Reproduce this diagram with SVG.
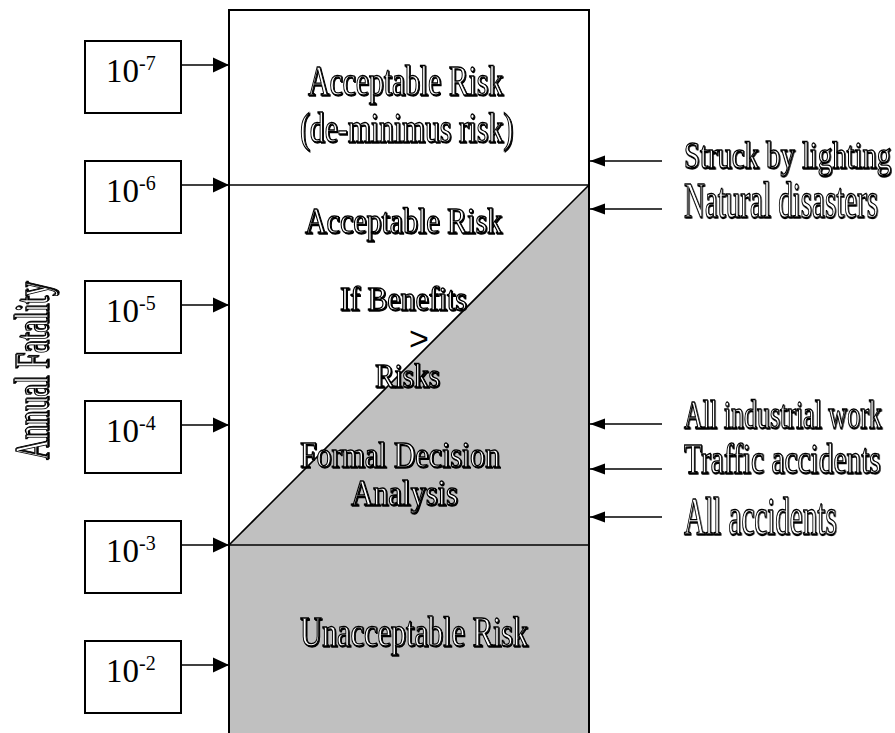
<svg xmlns="http://www.w3.org/2000/svg" width="895" height="733" viewBox="0 0 895 733">
<style>
.bx{fill:#fff;stroke:#000;stroke-width:2}
.ln{stroke:#000;stroke-width:1.6;fill:none}
.num{font-family:"Liberation Serif","Times New Roman",serif;font-size:33px;fill:#000}
.sup{font-size:20px}
.o{font-family:"Liberation Serif","Times New Roman",serif;fill:#fff;stroke:#000;stroke-width:1.3;filter:url(#sh)}
</style>
<defs>
<filter id="sh" x="-5%" y="-20%" width="110%" height="140%"><feDropShadow dx="1" dy="1" stdDeviation="0" flood-color="#000"/></filter>
<marker id="al" markerUnits="userSpaceOnUse" markerWidth="16" markerHeight="16" refX="16" refY="8" orient="auto"><path d="M0,0.5 L16,8 L0,15.5 Z" fill="#000"/></marker>
<marker id="ar" markerUnits="userSpaceOnUse" markerWidth="16" markerHeight="12" refX="15" refY="6" orient="auto"><path d="M0,0.5 L15,6 L0,11.5 Z" fill="#000"/></marker>
</defs>
<g id="main">
<rect x="229" y="10" width="360" height="740" fill="#fff" stroke="#000" stroke-width="2"/>
<polygon points="229,545 589,185 589,750 229,750" fill="#c0c0c0"/>
<line x1="229" y1="10" x2="229" y2="750" stroke="#000" stroke-width="2"/>
<line x1="589" y1="10" x2="589" y2="750" stroke="#000" stroke-width="2"/>
<line x1="229" y1="185" x2="589" y2="185" stroke="#000" stroke-width="1.6"/>
<line x1="229" y1="545" x2="589" y2="545" stroke="#000" stroke-width="1.6"/>
<line x1="229" y1="545" x2="589" y2="185" stroke="#000" stroke-width="1.6"/>
</g>
<g id="zone-texts">
<text class="o" x="308" y="95" font-size="42" textLength="195" lengthAdjust="spacingAndGlyphs">Acceptable Risk</text>
<text class="o" x="300" y="142" font-size="42" textLength="213" lengthAdjust="spacingAndGlyphs">(de-minimus risk)</text>
<text class="o" x="305" y="233" font-size="36" textLength="197" lengthAdjust="spacingAndGlyphs">Acceptable Risk</text>
<text class="o" x="340" y="310" font-size="33" textLength="127" lengthAdjust="spacingAndGlyphs">If Benefits</text>
<text x="419" y="350" font-family="Liberation Sans, Arial, sans-serif" font-size="34" text-anchor="middle" fill="#000">&gt;</text>
<text class="o" x="375" y="387" font-size="33" textLength="65" lengthAdjust="spacingAndGlyphs">Risks</text>
<text class="o" x="300" y="467" font-size="36" textLength="200" lengthAdjust="spacingAndGlyphs">Formal Decision</text>
<text class="o" x="351" y="505" font-size="36" textLength="107" lengthAdjust="spacingAndGlyphs">Analysis</text>
<text class="o" x="300" y="646" font-size="42" textLength="228" lengthAdjust="spacingAndGlyphs">Unacceptable Risk</text>
</g>
<g id="axis-label">
<text class="o" transform="translate(48,460) rotate(-90)" font-size="48" textLength="178" lengthAdjust="spacingAndGlyphs">Annual Fatality</text>
</g>
<g id="n7"><rect class="bx" x="85" y="41" width="96" height="72"/><text class="num" x="106" y="82">10<tspan class="sup" dy="-12">-7</tspan></text></g>
<g id="n6"><rect class="bx" x="85" y="161" width="96" height="72"/><text class="num" x="106" y="202">10<tspan class="sup" dy="-12">-6</tspan></text></g>
<g id="n5"><rect class="bx" x="85" y="281" width="96" height="72"/><text class="num" x="106" y="322">10<tspan class="sup" dy="-12">-5</tspan></text></g>
<g id="n4"><rect class="bx" x="85" y="401" width="96" height="72"/><text class="num" x="106" y="442">10<tspan class="sup" dy="-12">-4</tspan></text></g>
<g id="n3"><rect class="bx" x="85" y="521" width="96" height="72"/><text class="num" x="106" y="562">10<tspan class="sup" dy="-12">-3</tspan></text></g>
<g id="n2"><rect class="bx" x="85" y="641" width="96" height="72"/><text class="num" x="106" y="682">10<tspan class="sup" dy="-12">-2</tspan></text></g>
<g id="right-labels">
<text class="o" transform="translate(684,168) scale(0.755,1)" font-size="38">Struck by lighting</text>
<text class="o" transform="translate(684,217) scale(0.58,1)" font-size="50">Natural disasters</text>
<text class="o" transform="translate(684,428) scale(0.65,1)" font-size="40">All industrial work</text>
<text class="o" transform="translate(684,473) scale(0.7,1)" font-size="42">Traffic accidents</text>
<text class="o" transform="translate(684,534) scale(0.56,1)" font-size="52">All accidents</text>
</g>
<g id="connectors">
<line class="ln" x1="181" y1="65" x2="229" y2="65" marker-end="url(#al)"/>
<line class="ln" x1="181" y1="185" x2="229" y2="185" marker-end="url(#al)"/>
<line class="ln" x1="181" y1="305" x2="229" y2="305" marker-end="url(#al)"/>
<line class="ln" x1="181" y1="425" x2="229" y2="425" marker-end="url(#al)"/>
<line class="ln" x1="181" y1="545" x2="229" y2="545" marker-end="url(#al)"/>
<line class="ln" x1="181" y1="665" x2="229" y2="665" marker-end="url(#al)"/>
<line class="ln" x1="662" y1="161" x2="590" y2="161" marker-end="url(#ar)"/>
<line class="ln" x1="662" y1="209" x2="590" y2="209" marker-end="url(#ar)"/>
<line class="ln" x1="662" y1="424" x2="590" y2="424" marker-end="url(#ar)"/>
<line class="ln" x1="662" y1="469" x2="590" y2="469" marker-end="url(#ar)"/>
<line class="ln" x1="662" y1="517" x2="590" y2="517" marker-end="url(#ar)"/>
</g>
</svg>
